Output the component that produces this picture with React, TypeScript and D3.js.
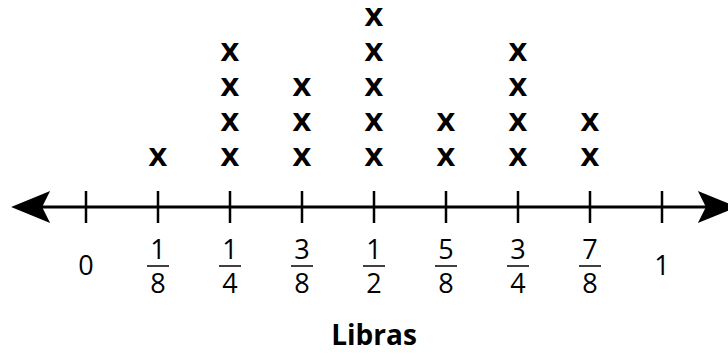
import React, { useEffect, useRef } from 'react';
import * as d3 from 'd3';

// ==== data

const positions = [0, 1 / 8, 1 / 4, 3 / 8, 1 / 2, 5 / 8, 3 / 4, 7 / 8, 1];
const numerators = ['0', '1', '1', '3', '1', '5', '3', '7', '1'];
const denominators = ['', '8', '4', '8', '2', '8', '4', '8', ''];
const counts = [0, 1, 4, 3, 5, 2, 4, 2, 0];
const axisTitle = 'Libras';

const WIDTH = 728;
const HEIGHT = 354;

// ====

function LinePlot() {
    const ref = useRef<SVGSVGElement>(null);

    useEffect(() => {
        const svg = d3.select(ref.current);
        svg.selectAll('*').remove();

        const x = d3.scaleLinear().domain([0, 1]).range([86, 662]);
        const row = d3.scaleLinear().domain([0, 4]).range([157, 17]);
        const axisY = 207;
        const lo = -0.13;
        const hi = 1.13;

        // axis line
        svg.append('line')
            .attr('x1', x(lo) + 20)
            .attr('x2', x(hi) - 20)
            .attr('y1', axisY)
            .attr('y2', axisY)
            .attr('stroke', '#000')
            .attr('stroke-width', 3);

        // arrow heads
        const arrow = (tip: number, dir: number) => {
            const back = tip + dir * 39;
            const notch = tip + dir * 31;
            return `M${tip},${axisY} L${back},${axisY - 16} L${notch},${axisY} L${back},${axisY + 16} Z`;
        };
        svg.append('path').attr('d', arrow(x(lo), 1)).attr('fill', '#000');
        svg.append('path').attr('d', arrow(x(hi), -1)).attr('fill', '#000');

        // ticks
        svg.selectAll('.tick')
            .data(positions)
            .enter()
            .append('line')
            .attr('class', 'tick')
            .attr('x1', (d) => x(d))
            .attr('x2', (d) => x(d))
            .attr('y1', axisY - 16)
            .attr('y2', axisY + 16)
            .attr('stroke', '#000')
            .attr('stroke-width', 2.5);

        // tick labels
        const labels = svg.selectAll('.lbl')
            .data(positions.map((p, i) => ({ p, num: numerators[i], den: denominators[i] })))
            .enter()
            .append('g')
            .attr('class', 'lbl')
            .attr('transform', (d) => `translate(${x(d.p)},0)`)
            .attr('font-family', '"Open Sans", sans-serif')
            .attr('font-weight', 500)
            .attr('font-size', 27)
            .attr('text-anchor', 'middle');

        labels.filter((d) => d.den === '')
            .append('text')
            .attr('y', 275)
            .text((d) => d.num);

        const fracs = labels.filter((d) => d.den !== '');
        fracs.append('text').attr('y', 259).text((d) => d.num);
        fracs.append('line')
            .attr('x1', -11)
            .attr('x2', 11)
            .attr('y1', 266)
            .attr('y2', 266)
            .attr('stroke', '#000')
            .attr('stroke-width', 1.5);
        fracs.append('text').attr('y', 293).text((d) => d.den);

        // X marks
        const marks = positions.flatMap((p, i) => d3.range(counts[i]).map((k) => ({ p, k })));
        svg.selectAll('.mark')
            .data(marks)
            .enter()
            .append('text')
            .attr('class', 'mark')
            .attr('x', (d) => x(d.p))
            .attr('y', (d) => row(d.k))
            .attr('dy', '0.36em')
            .attr('text-anchor', 'middle')
            .attr('font-family', '"DejaVu Sans", sans-serif')
            .attr('font-weight', 'bold')
            .attr('font-size', 25)
            .text('X');

        // axis title
        svg.append('text')
            .attr('x', x(0.5))
            .attr('y', 345)
            .attr('text-anchor', 'middle')
            .attr('font-family', '"Open Sans", sans-serif')
            .attr('font-weight', 'bold')
            .attr('font-size', 28)
            .text(axisTitle);
    }, []);

    return (
        <svg ref={ref} width={WIDTH} height={HEIGHT} style={{ display: 'block', background: '#fff' }} />
    );
}

// ====

export default function App() {
    return (
        <div style={{ position: 'absolute', left: 0, top: 0 }}>
            <LinePlot />
        </div>
    );
}
